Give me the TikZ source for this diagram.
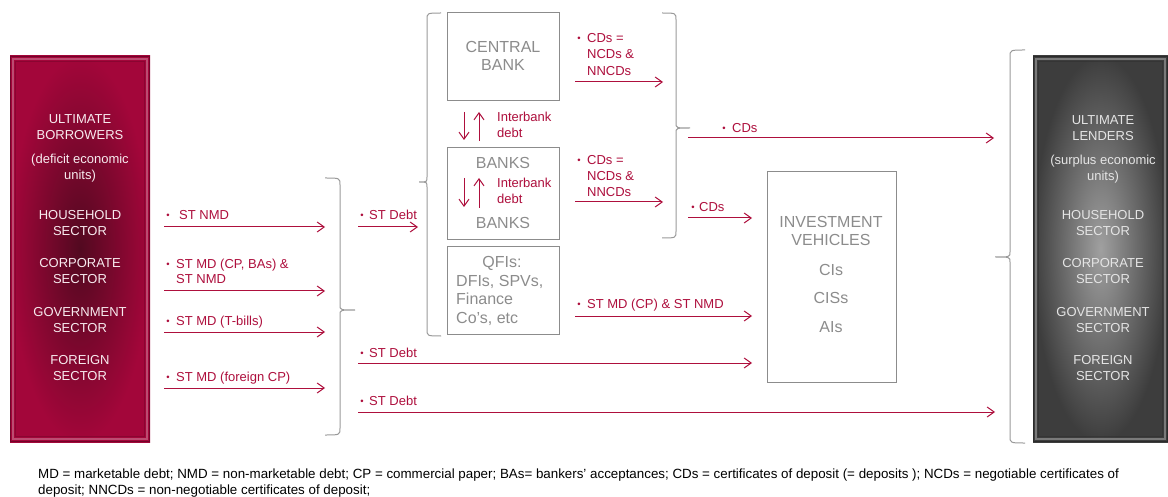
\documentclass[tikz,border=0pt]{standalone}
\usepackage{fontspec}
\setmainfont{Liberation Sans}
\usetikzlibrary{arrows.meta}
\definecolor{crim}{HTML}{AE0F3D}
\definecolor{maroon}{HTML}{A3063A}
\definecolor{maroondark}{HTML}{520920}
\definecolor{boxgray}{HTML}{8C8C8C}
\definecolor{bracegray}{HTML}{9A9A9A}
\definecolor{lendout}{HTML}{3D3D3D}
\definecolor{lendin}{HTML}{A0A0A0}
\newcommand{\mybrace}[6]{%
  \draw[brace] (#1,#4) .. controls (#2,#4) .. (#2,#4+7) -- (#2,#5-5)
    .. controls (#2,#5) .. (#3,#5) .. controls (#2,#5) .. (#2,#5+5)
    -- (#2,#6-7) .. controls (#2,#6) .. (#1,#6);}
\begin{document}
\begin{tikzpicture}[x=1pt,y=-1pt,
  brace/.style={draw=bracegray, line width=1pt},
  arr/.style={draw=crim, line width=1pt, -{Straight Barb[length=7pt,width=10pt,line width=1pt]}},
  gbox/.style={draw=boxgray, line width=1pt},
  lbl/.style={text=crim, font=\fontsize{13}{15}\selectfont, inner sep=0pt, anchor=base west},
  bul/.style={text=crim, font=\fontsize{9.5}{12}\selectfont, inner sep=0pt, anchor=base},
  wtxt/.style={text=white!92!maroon, font=\fontsize{13}{16}\selectfont, inner sep=0pt, anchor=base},
  ltxt/.style={text=white!90!black, font=\fontsize{13}{16}\selectfont, inner sep=0pt, anchor=base},
  gtxt/.style={text=boxgray, font=\fontsize{16}{19}\selectfont, inner sep=0pt, anchor=base},
  gtxtw/.style={text=boxgray, font=\fontsize{16}{19}\selectfont, inner sep=0pt, anchor=base west},
  foot/.style={text=black, font=\fontsize{13.35}{15}\selectfont, inner sep=0pt, anchor=base west}]
\useasboundingbox[fill=white] (0,0) rectangle (1168,497);

% ---------------- Ultimate borrowers box
\shade[inner color=maroondark, outer color=maroon] (10,56) rectangle (150,442);
\draw[maroon!70!black, line width=1pt] (10.5,56.5) rectangle (149.5,441.5);
\draw[maroon!60!white, line width=1.2pt, opacity=0.7] (13,59) rectangle (147,439);
\draw[maroon!75!black, line width=0.8pt, opacity=0.6] (15.5,61.5) rectangle (144.5,436.5);
\foreach \t/\y/\n in {ULTIMATE/123.7/a, BORROWERS/139.7/b, {(deficit economic}/163.5/c, {units)}/179.5/d,
  HOUSEHOLD/219.7/e, SECTOR/235.7/f, CORPORATE/267.7/g, SECTOR/283.7/h,
  GOVERNMENT/316.7/i, SECTOR/332.7/j, FOREIGN/364.7/k, SECTOR/380.7/l}
  \node[wtxt] (B\n) at (80,\y) {\t};

% ---------------- Ultimate lenders box
\shade[inner color=lendin, outer color=lendout] (1033,56) rectangle (1168,442);
\draw[lendout!70!black, line width=1pt] (1033.5,56.5) rectangle (1167.5,441.5);
\draw[white!45!lendout, line width=1.2pt, opacity=0.7] (1036,59) rectangle (1165,439);
\draw[lendout!80!black, line width=0.8pt, opacity=0.6] (1038.5,61.5) rectangle (1162.5,436.5);
\foreach \t/\y/\n in {ULTIMATE/124.7/a, LENDERS/140.7/b, {(surplus economic}/164.5/c, {units)}/180.5/d,
  HOUSEHOLD/219.7/e, SECTOR/235.7/f, CORPORATE/267.7/g, SECTOR/283.7/h,
  GOVERNMENT/316.7/i, SECTOR/332.7/j, FOREIGN/364.7/k, SECTOR/380.7/l}
  \node[ltxt] (U\n) at (1103,\y) {\t};

% ---------------- Braces
\mybrace{325}{340}{355}{178}{310}{435}
\mybrace{441}{427}{419}{13}{182}{336}
\mybrace{662}{676}{690}{13}{128}{238}
\mybrace{1025}{1010}{995}{50}{257}{443}

% ---------------- Intermediary boxes
\draw[gbox] (447,13) rectangle (559,101);
\node[gtxt] (cb1) at (503,52.5) {CENTRAL};
\node[gtxt] (cb2) at (503,70.7) {BANK};

\draw[gbox] (447,148) rectangle (559,240);
\node[gtxt] (bk1) at (503,168.7) {BANKS};
\node[gtxt] (bk2) at (503,228.7) {BANKS};

\draw[gbox] (447,247) rectangle (559,334);
\node[gtxt] (q1) at (502,267.7) {QFIs:};
\node[gtxtw] (q2) at (456,286.7) {DFIs, SPVs,};
\node[gtxtw] (q3) at (456,304.7) {Finance};
\node[gtxtw] (q4) at (456,323.7) {Co’s, etc};

\draw[gbox] (767,172) rectangle (896,382);
\node[gtxt] (iv1) at (831,227.7) {INVESTMENT};
\node[gtxt] (iv2) at (831,245.7) {VEHICLES};
\node[gtxt] (iv3) at (831,275.7) {CIs};
\node[gtxt] (iv4) at (831,303.7) {CISs};
\node[gtxt] (iv5) at (831,332.7) {AIs};

% ---------------- Interbank arrows
\coordinate (ib1a) at (464,112); \coordinate (ib1b) at (464,140);
\coordinate (ib2a) at (479,141); \coordinate (ib2b) at (479,112);
\draw[arr] (ib1a) -- (ib1b);
\draw[arr] (ib2a) -- (ib2b);
\node[lbl] (ibt1) at (497,121.5) {Interbank};
\node[lbl] (ibt2) at (497,137.5) {debt};

\coordinate (ib3a) at (464,178); \coordinate (ib3b) at (464,207);
\coordinate (ib4a) at (479,208); \coordinate (ib4b) at (479,178);
\draw[arr] (ib3a) -- (ib3b);
\draw[arr] (ib4a) -- (ib4b);
\node[lbl] (ibt3) at (497,187.5) {Interbank};
\node[lbl] (ibt4) at (497,204) {debt};

% ---------------- Left column arrows
\coordinate (l1s) at (164,227); \coordinate (l1e) at (325,227);
\coordinate (l2s) at (164,291); \coordinate (l2e) at (325,291);
\coordinate (l3s) at (164,332); \coordinate (l3e) at (325,332);
\coordinate (l4s) at (164,388); \coordinate (l4e) at (325,388);
\draw[arr] (l1s) -- (l1e);
\draw[arr] (l2s) -- (l2e);
\draw[arr] (l3s) -- (l3e);
\draw[arr] (l4s) -- (l4e);
\node[bul] (b1) at (168,218.5) {•};
\node[lbl] (t1) at (179,219.5) {ST NMD};
\node[bul] (b2) at (168,267.5) {•};
\node[lbl] (t2) at (176,268.5) {ST MD (CP, BAs) \&};
\node[lbl] (t2b) at (176,283.5) {ST NMD};
\node[bul] (b3) at (168,324.5) {•};
\node[lbl] (t3) at (176,325.5) {ST MD (T-bills)};
\node[bul] (b4) at (168,380.5) {•};
\node[lbl] (t4) at (176,381.5) {ST MD (foreign CP)};

% ---------------- ST Debt arrows
\coordinate (d1s) at (358,227); \coordinate (d1e) at (418,227);
\coordinate (d2s) at (358,363); \coordinate (d2e) at (752,363);
\coordinate (d3s) at (358,412); \coordinate (d3e) at (995,412);
\draw[arr] (d1s) -- (d1e);
\draw[arr] (d2s) -- (d2e);
\draw[arr] (d3s) -- (d3e);
\node[bul] (db1) at (362,218.5) {•};
\node[lbl] (dt1) at (369,219.5) {ST Debt};
\node[bul] (db2) at (362,356.5) {•};
\node[lbl] (dt2) at (369,357.5) {ST Debt};
\node[bul] (db3) at (362,404.5) {•};
\node[lbl] (dt3) at (369,405.5) {ST Debt};

% ---------------- CDs arrows
\coordinate (c1s) at (575,82); \coordinate (c1e) at (663,82);
\coordinate (c2s) at (575,202); \coordinate (c2e) at (663,202);
\draw[arr] (c1s) -- (c1e);
\draw[arr] (c2s) -- (c2e);
\node[bul] (cb1b) at (579,41.5) {•};
\node[lbl] (ct1a) at (587,42.5) {CDs =};
\node[lbl] (ct1b) at (587,58.5) {NCDs \&};
\node[lbl] (ct1c) at (587,75.5) {NNCDs};
\node[bul] (cb2b) at (579,163.5) {•};
\node[lbl] (ct2a) at (587,164.5) {CDs =};
\node[lbl] (ct2b) at (587,180.5) {NCDs \&};
\node[lbl] (ct2c) at (587,196.5) {NNCDs};

\coordinate (e1s) at (688,138); \coordinate (e1e) at (994,138);
\coordinate (e2s) at (688,218); \coordinate (e2e) at (752,218);
\draw[arr] (e1s) -- (e1e);
\draw[arr] (e2s) -- (e2e);
\node[bul] (eb1) at (724,131.5) {•};
\node[lbl] (et1) at (732,132.5) {CDs};
\node[bul] (eb2) at (693,210.5) {•};
\node[lbl] (et2) at (699,211.5) {CDs};

\coordinate (f1s) at (575,316); \coordinate (f1e) at (752,316);
\draw[arr] (f1s) -- (f1e);
\node[bul] (fb1) at (579,307.5) {•};
\node[lbl] (ft1) at (587,308.5) {ST MD (CP) \& ST NMD};

% ---------------- Footnote
\node[foot] (fn1) at (38,478) {MD = marketable debt; NMD = non-marketable debt; CP = commercial paper; BAs= bankers’ acceptances; CDs = certificates of deposit (= deposits ); NCDs = negotiable certificates of};
\node[foot] (fn2) at (38,494) {deposit; NNCDs = non-negotiable certificates of deposit;};
\end{tikzpicture}
\end{document}
